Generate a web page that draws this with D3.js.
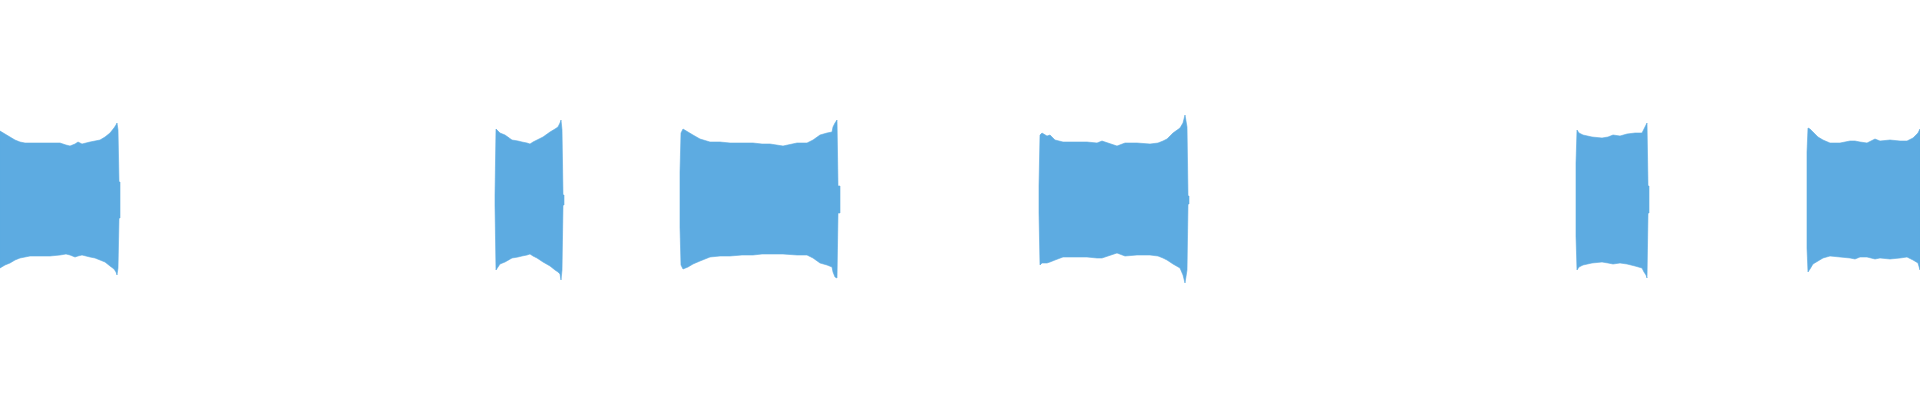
<!DOCTYPE html>
<html>
<head>
<meta charset="utf-8">
<script src="https://cdn.jsdelivr.net/npm/d3@7"></script>
<style>
	html, body { margin: 0; padding: 0; background: #fff; overflow: hidden; }
	svg { display: block; }
</style>
</head>
<body>
<svg id="wave"></svg>
<script>
// peak envelope per clip: [time (s), max amplitude (% full scale), min amplitude (%)]
let clip1 = [
	[0.00, 34.5, -34], [0.05, 33, -32.5], [0.10, 31.5, -31.5], [0.15, 30, -30],
	[0.20, 29, -29], [0.25, 28.5, -28.5], [0.30, 28.5, -28], [0.40, 28.5, -28],
	[0.50, 28.5, -28], [0.60, 28.5, -27.5], [0.66, 27.5, -27], [0.70, 27, -27.5],
	[0.75, 28, -28.5], [0.78, 29, -28], [0.82, 28, -27.5], [0.90, 29, -28.5],
	[0.95, 29.5, -29], [1.00, 30, -30], [1.05, 31.5, -31], [1.10, 33.5, -33],
	[1.14, 36, -34.5], [1.16, 37.5, -36], [1.17, 38.5, -37.5], [1.18, 35, -34],
	[1.19, 9, -9], [1.20, 9, -9]
]
let clip2 = [
	[4.95, 2.5, -2.5], [4.96, 35.5, -35], [4.98, 34.5, -33.5], [5.00, 33.5, -32],
	[5.05, 32.5, -31], [5.12, 30, -29], [5.18, 29.5, -28.5], [5.22, 29, -28],
	[5.27, 28.5, -27.5], [5.30, 28, -27], [5.33, 29, -28], [5.37, 30, -29],
	[5.43, 31.5, -31], [5.50, 34, -33], [5.55, 35.5, -35], [5.58, 36.5, -36],
	[5.60, 38.5, -37], [5.61, 40, -40], [5.62, 35, -35], [5.63, 2.5, -2.5],
	[5.64, 2.5, -2.5]
]
let clip3 = [
	[6.80, 14, -13.5], [6.81, 33.5, -32.5], [6.83, 35.5, -34.5], [6.88, 34, -33.5],
	[6.93, 32.5, -32], [7.00, 30.5, -30.5], [7.10, 29, -28.5], [7.20, 29, -28],
	[7.30, 28.5, -28], [7.42, 28.5, -27.5], [7.53, 28.5, -27.5], [7.62, 28, -27],
	[7.70, 28, -27], [7.83, 27, -27], [7.97, 28.5, -27.5], [8.07, 28.5, -27.5],
	[8.13, 30, -29], [8.20, 32.5, -31.5], [8.27, 33.5, -32.5], [8.32, 34, -33.5],
	[8.33, 36.5, -36], [8.35, 38.5, -38.5], [8.37, 40, -39], [8.38, 7, -6.5],
	[8.40, 7, -6.5]
]
let clip4 = [
	[10.39, 7, -6.5], [10.40, 32.5, -32.5], [10.42, 33.5, -31.5], [10.47, 32, -31.5],
	[10.50, 32.5, -31], [10.55, 30, -30], [10.63, 29, -28.5], [10.73, 29, -28.5],
	[10.87, 29, -28.5], [10.97, 28.5, -29], [11.02, 29.5, -29], [11.08, 28.5, -28],
	[11.17, 27, -26.5], [11.25, 28.5, -28], [11.37, 28.5, -27.5], [11.50, 28, -27.5],
	[11.58, 28.5, -28], [11.63, 29.5, -29], [11.67, 30.5, -30], [11.73, 33.5, -32],
	[11.80, 36, -34], [11.83, 38.5, -37.5], [11.85, 42.5, -41.5], [11.87, 36.5, -35],
	[11.88, 2, -2], [11.89, 2, -2]
]
let clip5 = [
	[15.76, 18.5, -18], [15.77, 35, -35], [15.79, 33.5, -33.5], [15.83, 32.5, -32.5],
	[15.92, 31.5, -31.5], [16.02, 31, -31], [16.08, 31.5, -31.5], [16.13, 32.5, -32],
	[16.20, 32, -31.5], [16.27, 33, -32], [16.35, 33.5, -33], [16.42, 33.5, -34],
	[16.44, 35.5, -36], [16.46, 37.5, -37.5], [16.47, 38.5, -39], [16.48, 7, -6.5],
	[16.49, 7, -6.5]
]
let clip6 = [
	[18.07, 24, -24], [18.08, 36, -36], [18.10, 35.5, -34.5], [18.13, 34, -32],
	[18.18, 31.5, -30.5], [18.23, 30, -29], [18.30, 28.5, -28], [18.40, 28.5, -28.5],
	[18.50, 29.5, -29], [18.55, 29.5, -29.5], [18.60, 29, -28.5], [18.67, 28.5, -28.5],
	[18.75, 30.5, -29.5], [18.80, 29.5, -29], [18.90, 30, -29.5], [19.00, 29.5, -29],
	[19.07, 29.5, -28.5], [19.13, 31, -30], [19.18, 33.5, -31.5], [19.20, 35.5, -35]
]

let clips = [clip1, clip2, clip3, clip4, clip5, clip6]
let duration = [0, 19.2]
let ampRange = [-100, 100]

let W = 1920, H = 400

let svg = d3.select('#wave')
	.attr('width', W).attr('height', H)

let x = d3.scaleLinear().domain(duration).range([0, W])
let y = d3.scaleLinear().domain(ampRange).range([H, 0])

let area = d3.area()
	.x(d => x(d[0]))
	.y0(d => y(d[2]))
	.y1(d => y(d[1]))
	.curve(d3.curveLinear)

svg.append('g')
	.attr('id', 'clips')
	.selectAll('path')
	.data(clips)
	.join('path')
		.attr('d', area)
		.attr('fill', '#5dabe1')
		.attr('stroke', '#5dabe1')
		.attr('stroke-width', 0.6)
</script>
</body>
</html>
